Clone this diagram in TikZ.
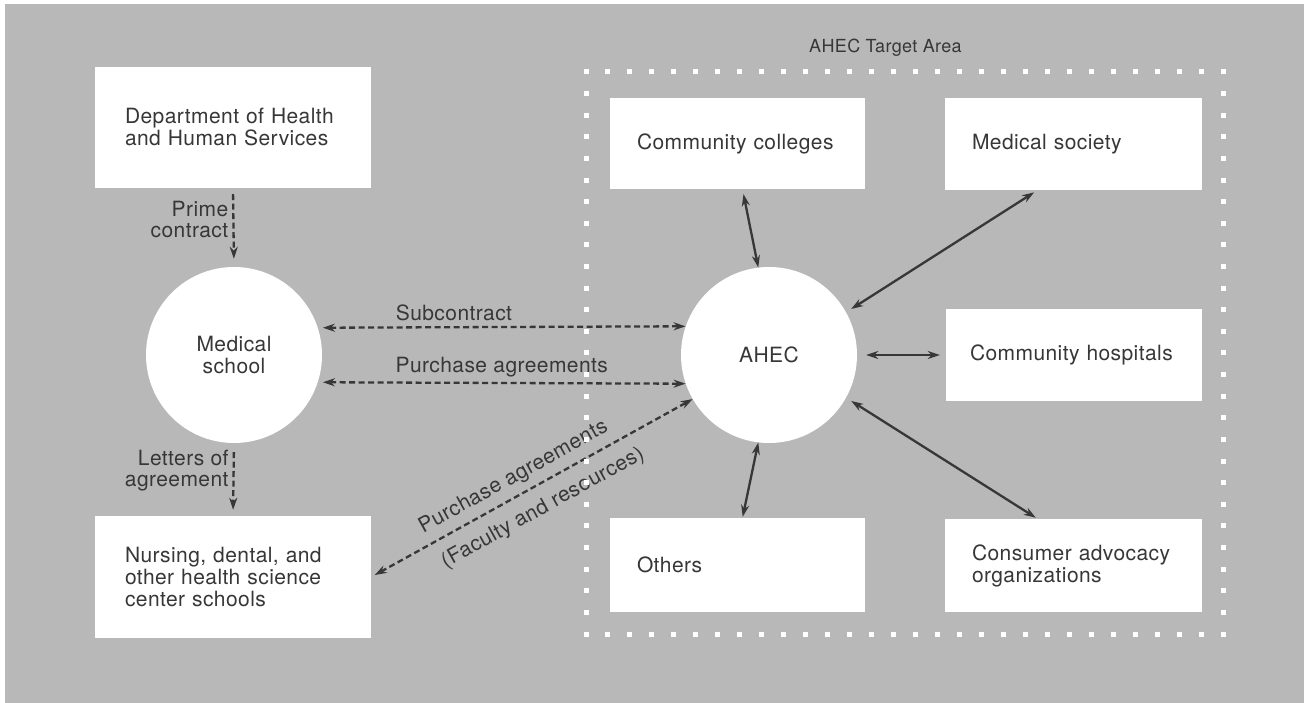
\documentclass[tikz,border=0pt]{standalone}
\usepackage{fontspec}
\setmainfont{TeX Gyre Heros}[LetterSpace=2]
\usetikzlibrary{arrows.meta}

\definecolor{bggray}{RGB}{184,184,184}
\definecolor{inkgray}{RGB}{55,55,55}

\tikzset{
  box/.style={fill=white, text=inkgray, align=left, inner xsep=27pt, inner ysep=0pt,
    font=\fontsize{21}{22}\selectfont},
  hub/.style={circle, fill=white, text=inkgray, align=center, inner sep=0pt,
    minimum size=176pt, font=\fontsize{21}{22}\selectfont},
  lbl/.style={text=inkgray, inner sep=1pt, font=\fontsize{21}{21}\selectfont},
  dasharrow/.style={draw=inkgray, line width=2.3pt, dash pattern=on 6pt off 3.5pt,
    -{Stealth[length=12pt,width=8pt]}},
  dasharrows/.style={dasharrow, {Stealth[length=12pt,width=8pt]}-{Stealth[length=12pt,width=8pt]}},
  solarrows/.style={draw=inkgray, line width=2.3pt,
    {Stealth[length=12pt,width=8pt]}-{Stealth[length=12pt,width=8pt]}}
}

\begin{document}
\hyphenpenalty=10000
\exhyphenpenalty=10000
\begin{tikzpicture}[x=1pt,y=-1pt]
\useasboundingbox (0,0) rectangle (1304,703);
\fill[white] (0,0) rectangle (1304,703);
\fill[bggray] (5,4) rectangle (1304,703);

% left column
\node[box, minimum width=276pt, minimum height=121pt, text width=216pt, inner xsep=30pt] (dhhs) at (233,127.5)
  {Department of Health\\and Human Services};
\node[hub] (medschool) at (234,355) {Medical\\school};
\node[box, minimum width=276pt, minimum height=122pt, text width=216pt, inner xsep=30pt] (nursing) at (233,577)
  {Nursing, dental, and\\other health science\\center schools};

% target area
\node[lbl, anchor=base west, font=\fontsize{18}{18}\selectfont] (area) at (808,53) {AHEC Target Area};
\node[hub] (ahec) at (769,355) {AHEC};
\node[box, minimum width=255pt, minimum height=91pt, text width=201pt] (colleges) at (737.5,143.5)
  {Community colleges};
\node[box, minimum width=257pt, minimum height=92pt, text width=203pt] (society) at (1073.5,144)
  {Medical society};
\node[box, minimum width=256pt, minimum height=92pt, text width=208pt, inner xsep=24pt] (hospitals) at (1074,355)
  {Community hospitals};
\node[box, minimum width=255pt, minimum height=94pt, text width=201pt] (others) at (737.5,565)
  {Others};
\node[box, minimum width=257pt, minimum height=93pt, text width=203pt] (consumer) at (1073.5,565.5)
  {Consumer advocacy\\organizations};

% contracts
\draw[dasharrow, shorten <=6pt, shorten >=8pt] (dhhs.south) --
  node[pos=0.4, left=3pt, lbl, align=right] {Prime\\contract} (medschool.north);
\draw[dasharrow, shorten <=9pt, shorten >=6pt] (medschool.south) --
  node[pos=0.38, left=3pt, lbl, align=right] {Letters of\\agreement} (nursing.north);
\draw[dasharrows, shorten <=5pt] (medschool.18.5) --
  node[pos=0.37, above=4pt, lbl] {Subcontract} (ahec.161.5);
\draw[dasharrows, shorten <=5pt] (medschool.-18.5) --
  node[pos=0.5, above=4pt, lbl] {Purchase agreements} (ahec.-161.5);
\draw[dasharrows, shorten <=4pt] (nursing.east) --
  node[pos=0.47, sloped, above=6pt, lbl] {Purchase agreements}
  node[pos=0.5, sloped, below=11pt, lbl] {(Faculty and resources)} (ahec.210);

% links inside the area
\draw[solarrows, shorten <=5pt] ([xshift=5pt]colleges.south) -- (ahec.97.5);
\draw[solarrows, shorten <=4pt, shorten >=6pt] ([xshift=-36pt]society.south) -- (ahec.29.5);
\draw[solarrows, shorten <=9pt, shorten >=6pt] (ahec.east) -- (hospitals.west);
\draw[solarrows, shorten <=6pt, shorten >=2pt] (ahec.-29.5) -- ([xshift=-36pt]consumer.north);
\draw[solarrows, shorten >=1pt] (ahec.-97.5) -- ([xshift=5pt]others.north);

% dotted frame
\foreach \i in {0,...,29} {
  \fill[white] ({586+\i*21.966-2.5},69.5) rectangle ++(5,5);
  \fill[white] ({586+\i*21.966-2.5},631.5) rectangle ++(5,5);
}
\foreach \j in {1,...,25} {
  \fill[white] (583.5,{72+\j*21.615-2.5}) rectangle ++(5,5);
  \fill[white] (1220.5,{72+\j*21.615-2.5}) rectangle ++(5,5);
}
\end{tikzpicture}
\end{document}
